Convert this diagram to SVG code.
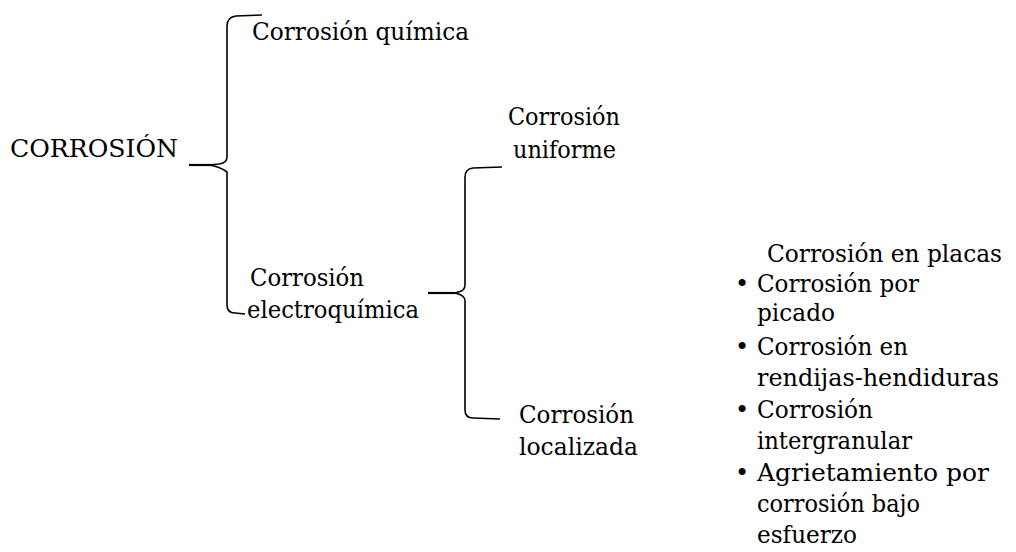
<svg xmlns="http://www.w3.org/2000/svg" width="1016" height="552" viewBox="0 0 1016 552">
<style>
text{font-family:"DejaVu Serif","Liberation Serif",serif;font-size:24px;fill:#000}
.br{fill:none;stroke:#000;stroke-width:1.6}
.st{fill:none;stroke:#000;stroke-width:2.2}
</style>
<rect width="1016" height="552" fill="#fff"/>
<g id="connectors">
<path class="br" d="M262 15 L236 16 Q227 17 227 26 L227 157 Q227 163 219 164 L208 165 Q219 166 227 172 L227 305 Q227 313 235 313 L245 314"/>
<line class="st" x1="189" y1="165" x2="210" y2="165"/>
<path class="br" d="M502 167 L473 168 Q465 169 465 177 L465 285 Q465 291 458 292 L455 293 Q465 295 465 301 L465 410 Q465 418 473 418 L500 419"/>
<line class="st" x1="428" y1="293" x2="455" y2="293"/>
</g>
<g id="n-corrosion"><text x="10" y="157" textLength="168" lengthAdjust="spacingAndGlyphs">CORROSIÓN</text></g>
<g id="n-quimica"><text x="252" y="40" textLength="217" lengthAdjust="spacingAndGlyphs">Corrosión química</text></g>
<g id="n-electroquimica"><text x="250" y="286" textLength="114" lengthAdjust="spacingAndGlyphs">Corrosión</text><text x="247" y="318" textLength="172" lengthAdjust="spacingAndGlyphs">electroquímica</text></g>
<g id="n-uniforme"><text x="508" y="125" textLength="112" lengthAdjust="spacingAndGlyphs">Corrosión</text><text x="513" y="158" textLength="103" lengthAdjust="spacingAndGlyphs">uniforme</text></g>
<g id="n-localizada"><text x="519" y="423" textLength="115" lengthAdjust="spacingAndGlyphs">Corrosión</text><text x="519" y="455" textLength="119" lengthAdjust="spacingAndGlyphs">localizada</text></g>
<g id="n-tipos">
<text x="767" y="262" textLength="235" lengthAdjust="spacingAndGlyphs">Corrosión en placas</text>
<text x="735" y="292">•</text><text x="757" y="292" textLength="162" lengthAdjust="spacingAndGlyphs">Corrosión por</text>
<text x="757" y="321" textLength="78" lengthAdjust="spacingAndGlyphs">picado</text>
<text x="735" y="355">•</text><text x="757" y="355" textLength="151" lengthAdjust="spacingAndGlyphs">Corrosión en</text>
<text x="757" y="386" textLength="242" lengthAdjust="spacingAndGlyphs">rendijas-hendiduras</text>
<text x="735" y="418">•</text><text x="757" y="418" textLength="116" lengthAdjust="spacingAndGlyphs">Corrosión</text>
<text x="757" y="449" textLength="155" lengthAdjust="spacingAndGlyphs">intergranular</text>
<text x="735" y="481">•</text><text x="757" y="481" textLength="232" lengthAdjust="spacingAndGlyphs">Agrietamiento por</text>
<text x="757" y="512" textLength="163" lengthAdjust="spacingAndGlyphs">corrosión bajo</text>
<text x="757" y="543" textLength="100" lengthAdjust="spacingAndGlyphs">esfuerzo</text>
</g>
</svg>
